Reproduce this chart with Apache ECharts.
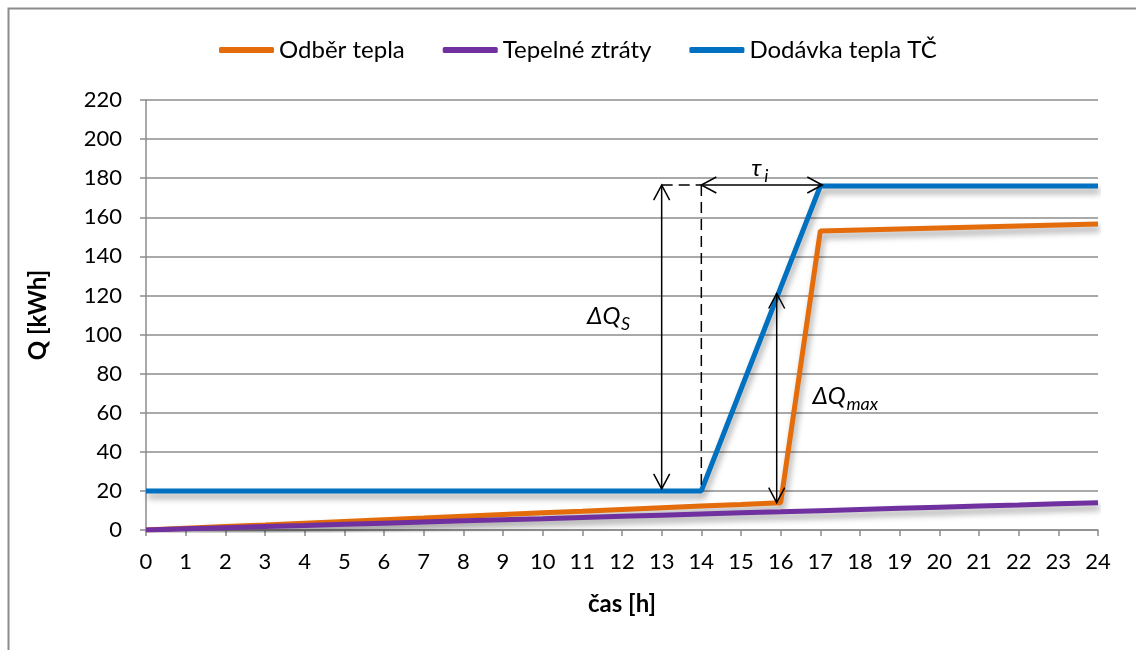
<!DOCTYPE html>
<html>
<head>
<meta charset="utf-8">
<script src="https://cdn.jsdelivr.net/npm/echarts@6/dist/echarts.min.js"></script>
<style>
html,body{margin:0;padding:0;background:#fff;}
#c{width:1136px;height:650px;}
</style>
</head>
<body>
<div id="c"></div>
<script>
// ---- data ----
const hours = [0,1,2,3,4,5,6,7,8,9,10,11,12,13,14,15,16,17,18,19,20,21,22,23,24];
const odberTepla = [0,0.9,1.8,2.6,3.5,4.4,5.3,6.1,7.0,7.9,8.8,9.6,10.5,11.4,12.3,13.1,14,153,153.5,154,154.5,155,155.5,156,156.5];
const tepelneZtraty = [0,0.6,1.2,1.8,2.3,2.9,3.5,4.1,4.7,5.3,5.8,6.4,7.0,7.6,8.2,8.8,9.3,9.9,10.5,11.1,11.7,12.3,12.8,13.4,14];
const dodavkaTepla = [20,20,20,20,20,20,20,20,20,20,20,20,20,20,20,72,124,176,176,176,176,176,176,176,176];
const seriesNames = ['Odběr tepla','Tepelné ztráty','Dodávka tepla TČ'];
const yTicks = {min:0, max:220, step:20};
const xTicks = {min:0, max:24, step:1};
// annotation arrows (double headed): x1,y1,x2,y2
const arrows = [[13,21,13,176.5],[14,176.5,17.05,176.5],[15.9,14,15.9,121]];
// dashed guide lines: x1,y1,x2,y2
const dashes = [[13,176.5,14,176.5],[14,176.5,14,20]];
// labels: main, subscript, x, y
const labels = [['ΔQ','S',11.12,109.5],['τ','i',15.26,185],['ΔQ','max',16.8,68.6]];

const FONT = 'Lato, "Open Sans", sans-serif';
const colors = ['#E46C0A','#7030A0','#0070C0'];

function pairs(vals){ return hours.map((h,i)=>[h,vals[i]]); }

const shadow = {shadowColor:'rgba(0,0,0,0.35)', shadowBlur:6, shadowOffsetX:2, shadowOffsetY:5};

function arrowHead(tip, from){
  const dx = tip[0]-from[0], dy = tip[1]-from[1];
  const len = Math.sqrt(dx*dx+dy*dy) || 1;
  const ux = dx/len, uy = dy/len;
  const L = 15, W = 8;
  const bx = tip[0]-ux*L, by = tip[1]-uy*L;
  return {type:'polyline', shape:{points:[[bx - uy*W, by + ux*W], tip, [bx + uy*W, by - ux*W]]},
          style:{stroke:'#000', lineWidth:1.5, fill:null}};
}

const chart = echarts.init(document.getElementById('c'), null, {renderer:'canvas'});
chart.setOption({
  animation:false,
  backgroundColor:'#fff',
  graphic:[{type:'rect', left:6, top:6, shape:{width:1200, height:700},
            style:{fill:null, stroke:'#8c8c8c', lineWidth:2}, silent:true, z:-1}],
  legend:{
    data:seriesNames, left:214, top:33, itemWidth:55, itemHeight:6, itemGap:38,
    icon:'roundRect',
    textStyle:{fontFamily:FONT, fontSize:24, color:'#000'}
  },
  grid:{left:146, right:38, top:100, bottom:120},
  xAxis:{
    type:'value', min:xTicks.min, max:xTicks.max, interval:xTicks.step,
    name:'čas [h]', nameLocation:'middle', nameGap:62,
    nameTextStyle:{fontFamily:FONT, fontSize:24, fontWeight:'bold', color:'#000'},
    axisLine:{show:true, lineStyle:{color:'#8c8c8c', width:1.5}},
    axisTick:{show:true, length:6, lineStyle:{color:'#8c8c8c', width:1.5}},
    axisLabel:{fontFamily:FONT, fontSize:22, color:'#000', margin:21},
    splitLine:{show:false}
  },
  yAxis:{
    type:'value', min:yTicks.min, max:yTicks.max, interval:yTicks.step,
    name:'Q [kWh]', nameLocation:'middle', nameGap:96, nameRotate:90,
    nameTextStyle:{fontFamily:FONT, fontSize:24, fontWeight:'bold', color:'#000'},
    axisLine:{show:true, lineStyle:{color:'#8c8c8c', width:1.5}},
    axisTick:{show:true, length:6, lineStyle:{color:'#8c8c8c', width:1.5}},
    axisLabel:{fontFamily:FONT, fontSize:22, color:'#000', margin:24},
    splitLine:{show:true, lineStyle:{color:'#8c8c8c', width:1.5}}
  },
  series:[
    {name:seriesNames[0], type:'line', data:pairs(odberTepla), showSymbol:false, symbol:'none',
     itemStyle:{color:colors[0]}, lineStyle:Object.assign({color:colors[0], width:5}, shadow), z:3},
    {name:seriesNames[1], type:'line', data:pairs(tepelneZtraty), showSymbol:false, symbol:'none',
     itemStyle:{color:colors[1]}, lineStyle:Object.assign({color:colors[1], width:5}, shadow), z:3},
    {name:seriesNames[2], type:'line', data:pairs(dodavkaTepla), showSymbol:false, symbol:'none',
     itemStyle:{color:colors[2]}, lineStyle:Object.assign({color:colors[2], width:5}, shadow), z:3},
    {type:'custom', silent:true, z:5, clip:false, data:arrows,
     renderItem:function(params, api){
       const p1 = api.coord([api.value(0), api.value(1)]);
       const p2 = api.coord([api.value(2), api.value(3)]);
       return {type:'group', children:[
         {type:'line', shape:{x1:p1[0],y1:p1[1],x2:p2[0],y2:p2[1]}, style:{stroke:'#000', lineWidth:1.5}},
         arrowHead(p1,p2), arrowHead(p2,p1)
       ]};
     }},
    {type:'custom', silent:true, z:5, clip:false, data:dashes,
     renderItem:function(params, api){
       const p1 = api.coord([api.value(0), api.value(1)]);
       const p2 = api.coord([api.value(2), api.value(3)]);
       return {type:'line', shape:{x1:p1[0],y1:p1[1],x2:p2[0],y2:p2[1]},
               style:{stroke:'#000', lineWidth:1.5, lineDash:[11,6]}};
     }},
    {type:'custom', silent:true, z:6, clip:false,
     data:labels.map(l=>[l[2], l[3]]),
     renderItem:function(params, api){
       const p = api.coord([api.value(0), api.value(1)]);
       const l = labels[params.dataIndex];
       return {type:'group', children:[
         {type:'text', x:p[0], y:p[1], style:{text:l[0], font:'italic 24px '+FONT, fill:'#000',
           textAlign:'left', textVerticalAlign:'middle'}},
         {type:'text', x:p[0] + (l[0]==='τ' ? 13 : 34), y:p[1]+8, style:{text:l[1], font:'italic 18px '+FONT, fill:'#000',
           textAlign:'left', textVerticalAlign:'middle'}}
       ]};
     }}
  ]
});
</script>
</body>
</html>
